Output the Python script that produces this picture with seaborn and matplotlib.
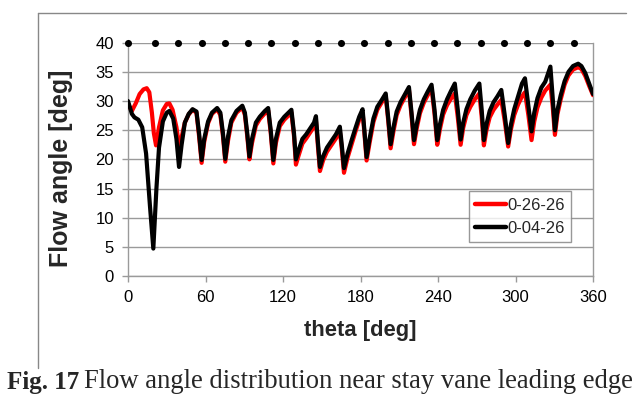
import matplotlib
matplotlib.use("Agg")
import matplotlib.pyplot as plt
from matplotlib.lines import Line2D
import seaborn as sns
import pandas as pd

# ---- data ----
theta_black = [0, 3, 5, 8, 11, 14, 17, 19.6, 22, 24, 27, 30, 32, 35, 37.5, 39.5,
               41.5, 44, 47, 50, 53, 55, 57, 59, 62, 65, 69, 71.5, 73.5, 75.3,
               77.5, 80, 84, 88.5, 90.5, 92.3, 94, 96, 99, 102, 106, 108.5, 110.5,
               112.5, 114.5, 117.5, 121, 126.5, 128.5, 130, 132, 135, 138, 141, 144,
               145.5, 147, 148.6, 151, 154, 158, 161, 164, 165.5, 167.2, 170, 173,
               176, 179, 181.6, 183, 184.7, 187, 190, 193, 196.5, 199.5, 201.5,
               203.3, 205.5, 208, 211, 214.5, 217.5, 219.5, 221.4, 223.5, 226, 229,
               232, 235, 237.3, 239.4, 241.5, 244, 247, 250, 253, 255.3, 257.5,
               259.5, 262, 265, 268.5, 272, 273.8, 275.5, 277.5, 280, 283, 286, 289,
               291.7, 294.3, 296.5, 299, 302, 305, 307.3, 310, 312.4, 314.5, 317,
               320, 323, 327, 328.8, 330.5, 332.5, 335, 338, 341, 344.5, 348.5, 351,
               354, 357, 360]
angle_black = [30.0, 27.8, 27.2, 26.8, 25.5, 21.0, 12.0, 4.7, 15.0, 22.0, 26.5, 28.0,
               28.3, 27.0, 23.5, 18.7,
               22.5, 26.3, 27.8, 28.6, 28.2, 24.5, 19.9, 23.5, 26.5, 28.0, 28.8, 28.0,
               24.5, 20.1, 24.0, 26.7, 28.3, 29.2, 28.0, 24.5, 20.5, 23.5, 26.3, 27.3,
               28.3, 28.8, 25.0, 19.9, 23.5, 26.3, 27.3, 28.5, 24.5, 20.0, 21.5, 23.5,
               24.3, 25.3, 26.3, 27.4, 23.0, 18.7, 20.5, 22.0, 23.3, 24.3, 25.6, 22.5,
               18.5, 21.0, 23.2, 25.3, 27.3, 28.6, 25.0, 20.4, 23.5, 27.0, 29.0, 30.2,
               31.3, 27.0, 22.6, 25.5, 28.2, 29.8, 31.2, 32.4, 28.0, 23.3, 26.0, 28.5,
               30.3, 31.6, 32.8, 28.5, 23.3, 26.0, 28.5, 30.3, 31.7, 33.0, 28.5, 23.4,
               26.3, 28.6, 30.3, 31.8, 33.0, 28.5, 23.3, 26.0, 28.3, 29.8, 30.8, 31.9,
               27.5, 22.8, 26.0, 28.6, 30.8, 33.0, 33.9, 29.0, 24.8, 28.0, 30.5, 32.3,
               33.3, 35.9, 30.5, 25.0, 28.5, 31.0, 33.4, 35.0, 36.0, 36.4, 36.0, 34.8,
               33.0, 31.2]

theta_red = [0, 3, 6, 9, 12, 14.5, 16.5, 18.5, 20, 21.7, 24, 27, 30, 32, 34.5, 37.5, 40,
             41.5, 44, 47, 50, 53, 55, 57, 59, 62, 65, 69, 71.5, 73.5, 75.3,
             77.5, 80, 84, 88.5, 90.5, 92.3, 94, 96, 99, 102, 106, 108.5, 110.5,
             112.5, 114.5, 117.5, 121, 126.5, 128.5, 130, 132, 135, 138, 141, 144,
             145.5, 147, 148.6, 151, 154, 158, 161, 164, 165.5, 167.2, 170, 173,
             176, 179, 181.6, 183, 184.7, 187, 190, 193, 196.5, 199.5, 201.5,
             203.3, 205.5, 208, 211, 214.5, 217.5, 219.5, 221.4, 223.5, 226, 229,
             232, 235, 237.3, 239.4, 241.5, 244, 247, 250, 253, 255.3, 257.5,
             259.5, 262, 265, 268.5, 272, 273.8, 275.5, 277.5, 280, 283, 286, 289,
             291.7, 294.3, 296.5, 299, 302, 305, 307.3, 310, 312.4, 314.5, 317,
             320, 323, 327, 328.8, 330.5, 332.5, 335, 338, 341, 344.5, 348.5, 351,
             354, 357, 360]
angle_red = [29.5, 28.3, 29.6, 31.2, 32.0, 32.2, 31.5, 28.0, 24.5, 22.4, 25.5, 28.4,
             29.5, 29.6, 28.5, 25.5, 21.6,
             23.8, 26.3, 27.7, 28.5, 28.0, 24.0, 19.4, 23.0, 26.2, 27.8, 28.6, 27.6,
             24.0, 19.6, 23.3, 26.3, 28.0, 28.9, 27.6, 24.0, 20.0, 22.8, 25.8, 26.9,
             27.9, 28.4, 24.5, 19.3, 22.8, 25.7, 26.8, 28.0, 24.0, 19.1, 20.6, 22.7,
             23.6, 24.6, 25.6, 26.7, 22.3, 18.0, 19.8, 21.3, 22.6, 23.6, 24.8, 21.8,
             17.7, 20.3, 22.5, 24.7, 26.8, 28.1, 24.5, 19.8, 22.8, 26.4, 28.5, 29.8,
             30.9, 26.5, 21.9, 24.8, 27.6, 29.3, 30.7, 31.9, 27.4, 22.6, 25.3, 27.9,
             29.7, 31.0, 32.2, 27.8, 22.5, 25.2, 27.7, 29.3, 30.4, 31.3, 27.2, 22.5,
             25.4, 27.6, 29.0, 30.3, 31.3, 27.3, 22.4, 25.0, 27.2, 28.5, 29.4, 30.2,
             26.5, 22.2, 25.2, 27.6, 29.4, 30.8, 31.5, 27.5, 23.3, 26.5, 28.9, 30.6,
             31.8, 32.8, 29.0, 24.2, 27.8, 30.3, 32.8, 34.4, 35.4, 35.8, 35.5, 34.3,
             32.6, 31.0]

vane_theta = [0, 21, 39, 57, 75, 93, 111, 129, 147, 165, 183, 201, 219, 237, 255,
              273, 291, 309, 327, 345]
vane_level = [40] * len(vane_theta)

series_names = ["0-26-26", "0-04-26"]
x_ticks = [0, 60, 120, 180, 240, 300, 360]
y_ticks = [0, 5, 10, 15, 20, 25, 30, 35, 40]

df = pd.concat([
    pd.DataFrame({"theta": theta_red, "angle": angle_red, "series": series_names[0]}),
    pd.DataFrame({"theta": theta_black, "angle": angle_black, "series": series_names[1]}),
], ignore_index=True)
vanes = pd.DataFrame({"theta": vane_theta, "angle": vane_level})

# ---- style ----
sns.set_theme(style="white")
plt.rcParams["font.family"] = ["Liberation Sans", "DejaVu Sans"]

fig = plt.figure(figsize=(6.4, 3.97), dpi=100)
ax = fig.add_axes([0.2, 0.3048, 0.7266, 0.5876])

grid_c = "#9a9a9a"
for yv in y_ticks:
    ax.axhline(yv, color=grid_c, lw=1.0, zorder=0)

sns.lineplot(data=df, x="theta", y="angle", hue="series", sort=False,
             palette={series_names[0]: "#ff0000", series_names[1]: "#000000"},
             hue_order=series_names, lw=3.0, ax=ax, estimator=None, zorder=3)

sns.scatterplot(data=vanes, x="theta", y="angle", color="black", s=26,
                edgecolor="black", linewidth=0, ax=ax, zorder=4, clip_on=False,
                legend=False)

ax.set_xlim(0, 360)
ax.set_ylim(0, 40)
ax.set_xticks(x_ticks)
ax.set_yticks(y_ticks)
ax.tick_params(axis="both", labelsize=12, colors="black", length=4, width=1,
               direction="out", pad=6)
ax.tick_params(axis="x", color=grid_c, bottom=True)
ax.tick_params(axis="y", color=grid_c, left=True)
for s in ["left", "bottom", "right", "top"]:
    ax.spines[s].set_color(grid_c)
    ax.spines[s].set_linewidth(1.0)
ax.spines["top"].set_visible(False)

ax.set_xlabel("theta [deg]", fontsize=15.8, fontweight="bold", labelpad=11)
ax.set_ylabel("Flow angle [deg]", fontsize=18, fontweight="bold")
ax.yaxis.set_label_coords(-0.118, 0.463)

leg = ax.legend(loc="lower right", bbox_to_anchor=(0.953, 0.145), fontsize=12,
                frameon=True, fancybox=False, edgecolor="#7f7f7f",
                handlelength=1.85, handletextpad=0.05, borderpad=0.4,
                labelspacing=0.45, borderaxespad=0)
leg.get_frame().set_linewidth(1.0)
for h in leg.get_lines():
    h.set_linewidth(3.2)

# outer chart frame (left and top edges)
fig.add_artist(Line2D([38 / 640, 626 / 640], [1 - 13 / 397, 1 - 13 / 397],
                      color="#888888", lw=1.0, transform=fig.transFigure))
fig.add_artist(Line2D([38 / 640, 38 / 640], [1 - 13 / 397, 1 - 368 / 397],
                      color="#888888", lw=1.0, transform=fig.transFigure))

fig.text(0.011, 0.008, "Fig. 17", family=["Liberation Serif", "DejaVu Serif"],
         fontweight="bold", fontsize=18, ha="left", va="bottom")
fig.text(0.131, 0.008, "Flow angle distribution near stay vane leading edge",
         family=["Liberation Serif", "DejaVu Serif"], fontsize=19.2,
         ha="left", va="bottom")

fig.savefig("out.png", dpi=100)
